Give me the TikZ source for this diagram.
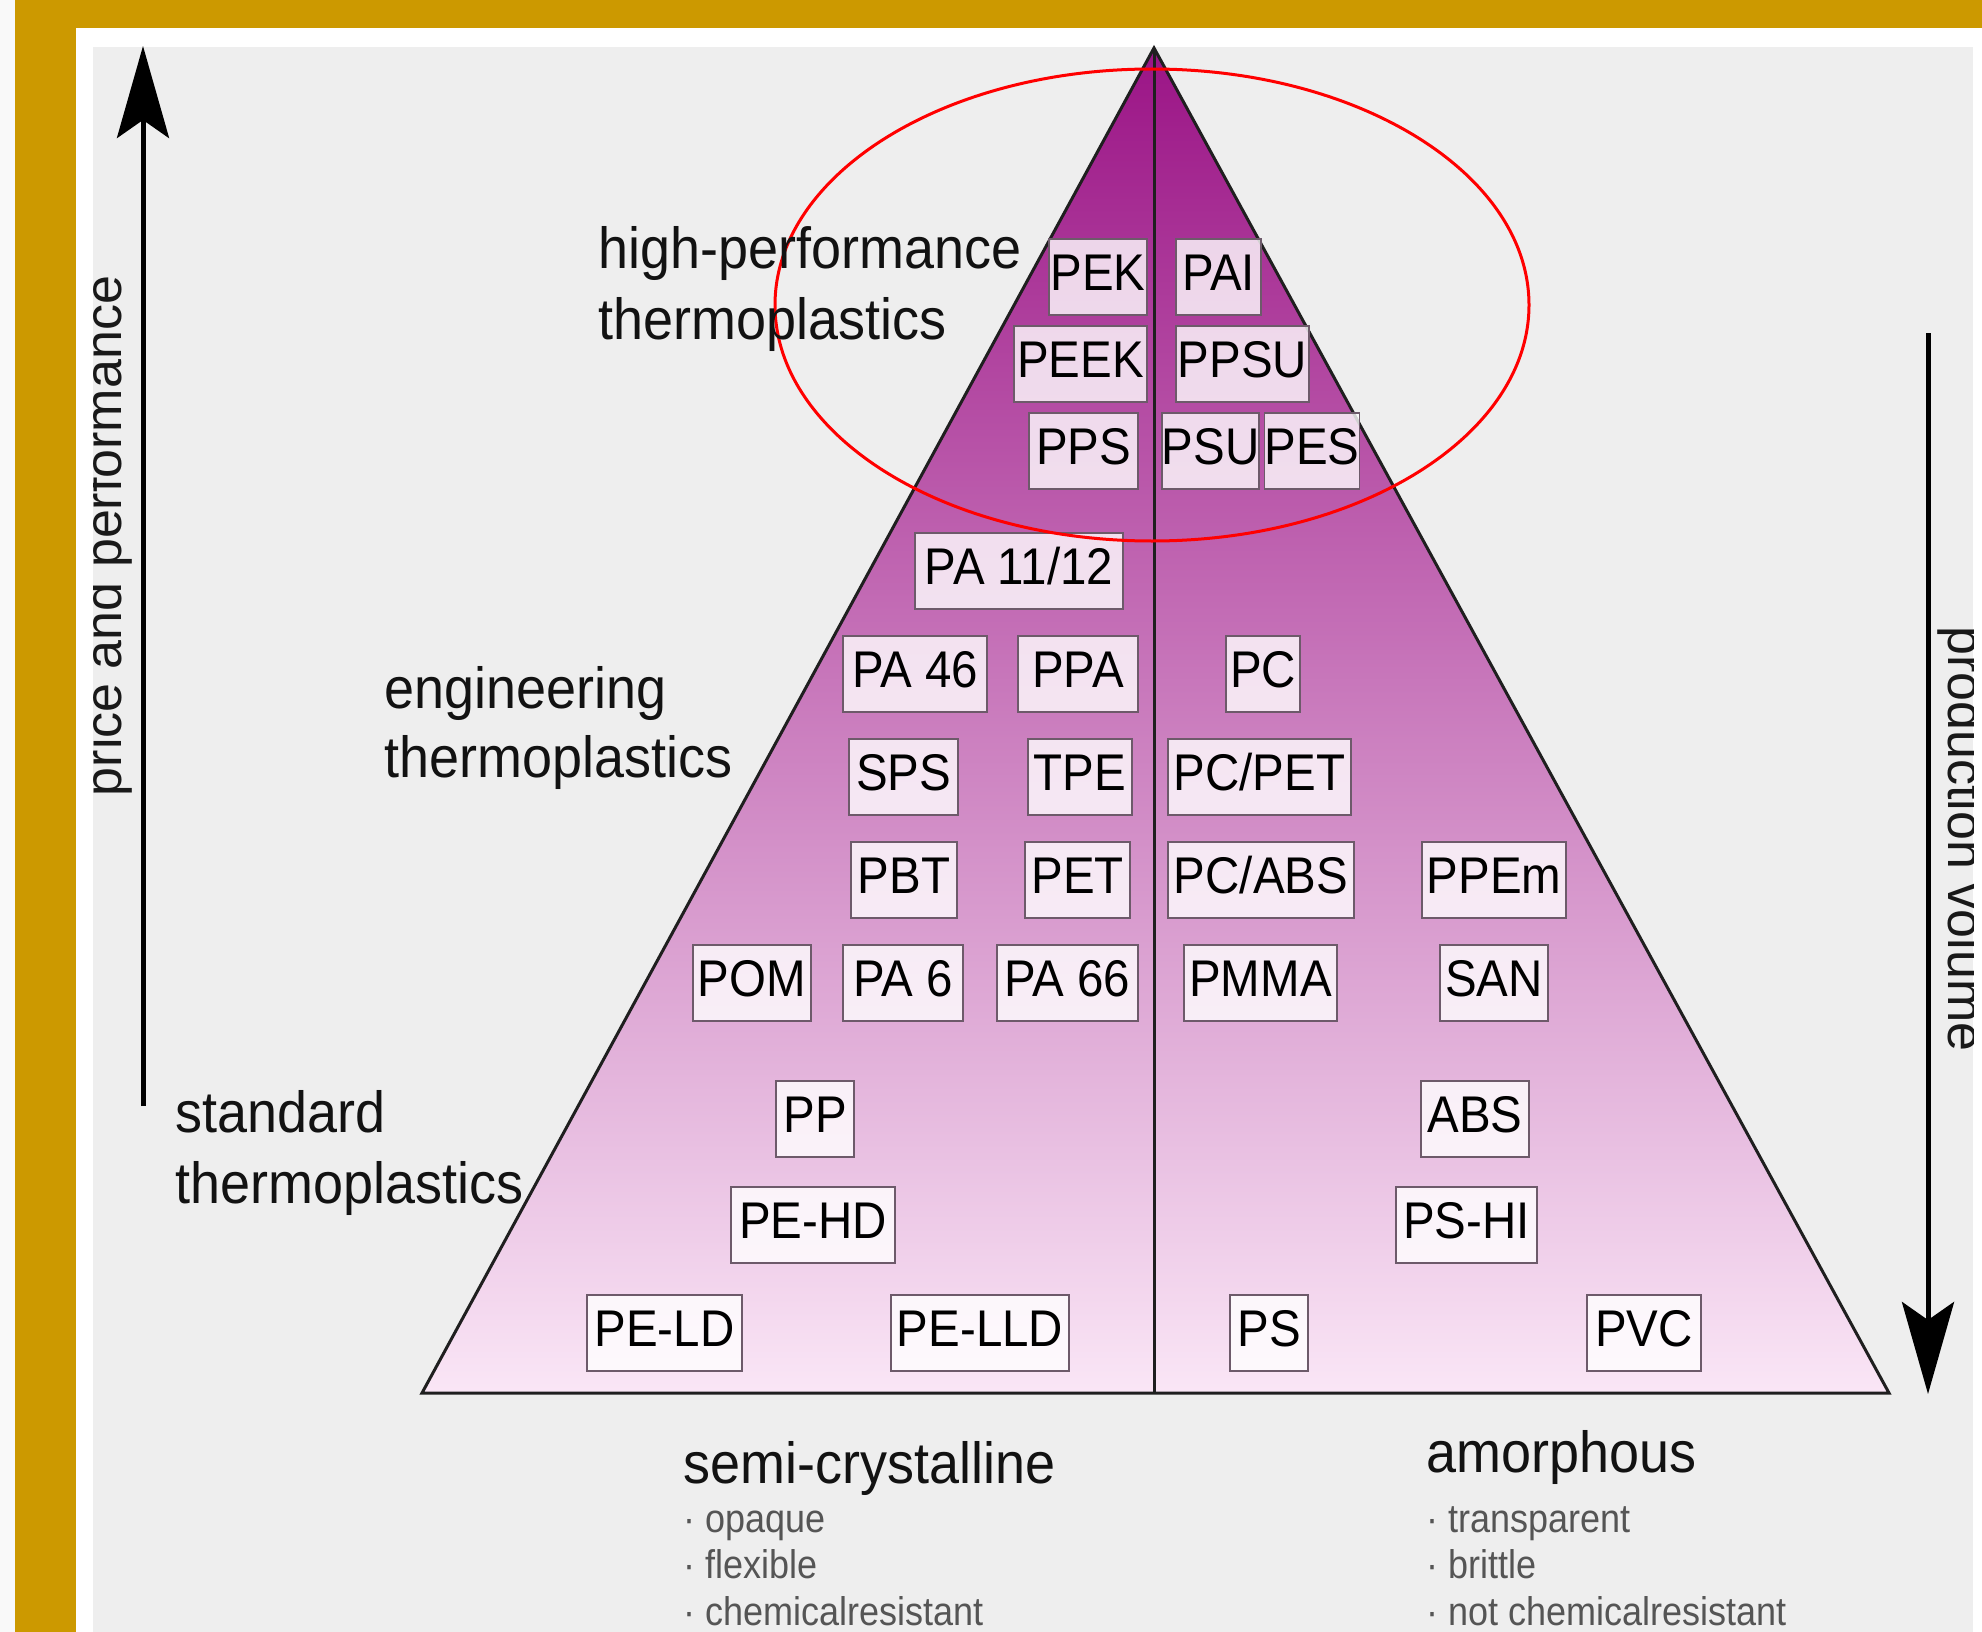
\documentclass[tikz,border=0pt]{standalone}
\usepackage{fontspec}
\setmainfont{Liberation Sans}
\newfontfamily\boxfont[FakeStretch=0.92]{Liberation Sans}
\newfontfamily\labfont[FakeStretch=0.93]{Liberation Sans}
\newfontfamily\bulfont[FakeStretch=0.9]{Liberation Sans}
\newfontfamily\rotfont{Liberation Sans}
\usetikzlibrary{arrows.meta}
\definecolor{gold}{HTML}{CC9900}
\definecolor{panel}{HTML}{EEEEEE}
\definecolor{pyrtop}{HTML}{9B1486}
\definecolor{pyrbot}{HTML}{FAE6F6}
\definecolor{boxline}{HTML}{6D5A6A}
\definecolor{bulletgray}{HTML}{555555}
\tikzset{
  pbox/.style={draw=boxline, line width=0.85pt, fill=white, fill opacity=0.8, text opacity=1,
    inner sep=0pt, minimum height=38pt, text height=18.5pt, text depth=5pt,
    font=\boxfont\fontsize{25.8}{30}\selectfont},
  catlab/.style={anchor=base west, inner sep=0pt, text=black!93,
    font=\labfont\fontsize{29}{35}\selectfont},
  bullab/.style={anchor=base west, inner sep=0pt, text=bulletgray,
    font=\bulfont\fontsize{20}{24}\selectfont},
  rotlab/.style={anchor=base, inner sep=0pt, text=black!90,
    font=\rotfont\fontsize{26}{30}\selectfont},
  outline/.style={draw=black!88, line width=1.5pt, line join=miter},
  bigarrow/.style={draw=black, line width=2.5pt,
    -{Stealth[length=46pt, width=26pt, inset=9pt]}},
}
\newcommand\pb[5]{\node[pbox, minimum width={#4*0.5pt}] (#1) at (#2,#3) {#5};}
\begin{document}
\begin{tikzpicture}[x=0.5pt,y=-0.5pt]
\useasboundingbox (0,0) rectangle (1982,1632);
% frame
\fill[white!95!gray] (0,0) rectangle (1982,1632);
\fill[gold] (15,0) rectangle (1982,1632);
\fill[white] (76,28) rectangle (1982,1632);
\fill[panel] (93,47) rectangle (1973,1632);
% pyramid
\coordinate (apex) at (1154,48);
\coordinate (bl) at (422,1393);
\coordinate (br) at (1889,1393);
\coordinate (bm) at (1154,1393);
\shade[top color=pyrtop, bottom color=pyrbot] (apex) -- (bl) -- (br) -- cycle;
\draw[outline] (apex) -- (bl) -- (br) -- cycle;
\draw[outline] (apex) -- (bm);
% boxes
\pb{pek}{1098}{277}{98}{PEK}
\pb{pai}{1218.5}{277}{85}{PAI}
\pb{peek}{1080.5}{364}{133}{PEEK}
\pb{ppsu}{1242.5}{364}{133}{PPSU}
\pb{pps}{1083.5}{451}{109}{PPS}
\pb{psu}{1210.5}{451}{97}{PSU}
\pb{pes}{1312}{451}{94}{PES}
\pb{pa1112}{1019}{571}{208}{PA 11/12}
\pb{pa46}{915}{674}{144}{PA 46}
\pb{ppa}{1078}{674}{120}{PPA}
\pb{pc}{1263}{674}{74}{PC}
\pb{sps}{903.5}{777}{109}{SPS}
\pb{tpe}{1080}{777}{104}{TPE}
\pb{pcpet}{1259.5}{777}{183}{PC/PET}
\pb{pbt}{904}{880}{106}{PBT}
\pb{pet}{1077.5}{880}{105}{PET}
\pb{pcabs}{1261}{880}{186}{PC/ABS}
\pb{ppem}{1494}{880}{144}{PPEm}
\pb{pom}{752}{983}{118}{POM}
\pb{pa6}{903}{983}{120}{PA 6}
\pb{pa66}{1067.5}{983}{141}{PA 66}
\pb{pmma}{1260.5}{983}{153}{PMMA}
\pb{san}{1494}{983}{108}{SAN}
\pb{pp}{815}{1119}{78}{PP}
\pb{abs}{1475}{1119}{108}{ABS}
\pb{pehd}{813}{1225}{164}{PE-HD}
\pb{pshi}{1466.5}{1225}{141}{PS-HI}
\pb{peld}{664.5}{1333}{155}{PE-LD}
\pb{pelld}{980}{1333}{178}{PE-LLD}
\pb{ps}{1269}{1333}{78}{PS}
\pb{pvc}{1644}{1333}{114}{PVC}
% red ellipse
\draw[red, line width=1.5pt] (1152,305) ellipse [x radius=377, y radius=236];
% category labels
\node[catlab] (hp1) at (598,268) {high-performance};
\node[catlab] (hp2) at (598,339) {thermoplastics};
\node[catlab] (en1) at (384,708) {engineering};
\node[catlab] (en2) at (384,777) {thermoplastics};
\node[catlab] (st1) at (175,1132) {standard};
\node[catlab] (st2) at (175,1203) {thermoplastics};
\node[catlab] (sc) at (683,1483) {semi-crystalline};
\node[bullab] (sc1) at (683,1532) {· opaque};
\node[bullab] (sc2) at (683,1578) {· flexible};
\node[bullab] (sc3) at (683,1625) {· chemicalresistant};
\node[catlab] (am) at (1426,1472) {amorphous};
\node[bullab] (am1) at (1426,1532) {· transparent};
\node[bullab] (am2) at (1426,1578) {· brittle};
\node[bullab] (am3) at (1426,1625) {· not chemicalresistant};
% arrows
\coordinate (la0) at (143,1106);
\coordinate (la1) at (143,46);
\draw[bigarrow] (la0) -- (la1);
\coordinate (ra0) at (1928,333);
\coordinate (ra1) at (1928,1394);
\draw[bigarrow] (ra0) -- (ra1);
\begin{scope}
\clip (93,47) rectangle (1973,1632);
\node[rotlab, rotate=90] (price) at (121,536) {price and performance};
\node[rotlab, rotate=-90] (prod) at (1948,839) {production volume};
\end{scope}
\end{tikzpicture}
\end{document}
